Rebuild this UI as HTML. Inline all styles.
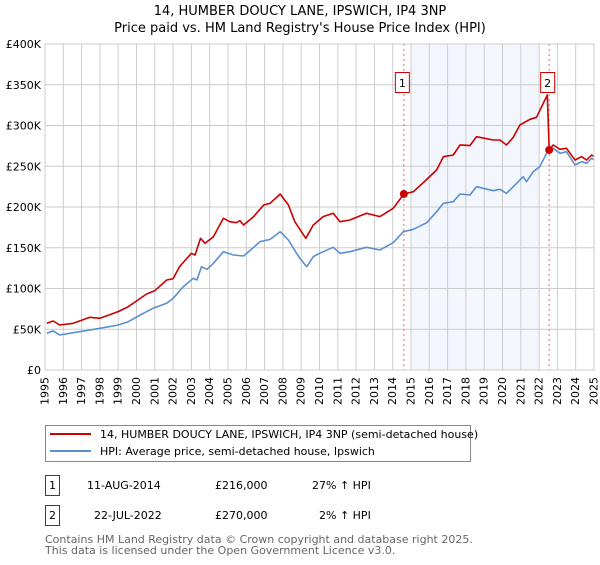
<!DOCTYPE html>
<html><head><meta charset="utf-8"><style>
body{margin:0;background:#fff}
svg{font-family:"DejaVu Sans","Liberation Sans",sans-serif}
</style></head><body>
<svg id="c" width="600" height="560" viewBox="0 0 600 560">
<text x="300" y="15" text-anchor="middle" font-size="13">14, HUMBER DOUCY LANE, IPSWICH, IP4 3NP</text>
<text x="300" y="32" text-anchor="middle" font-size="13">Price paid vs. HM Land Registry's House Price Index (HPI)</text>
<g id="plot"></g>
<g>
<rect x="45.5" y="425.5" width="425" height="36" fill="#fff" stroke="#888"/>
<line x1="50" y1="434" x2="91" y2="434" stroke="#cc0000" stroke-width="2"/>
<text x="100" y="438" font-size="11">14, HUMBER DOUCY LANE, IPSWICH, IP4 3NP (semi-detached house)</text>
<line x1="50" y1="451" x2="91" y2="451" stroke="#5b8fd0" stroke-width="2"/>
<text x="100" y="455" font-size="11">HPI: Average price, semi-detached house, Ipswich</text>
</g>
<g font-size="11">
<rect x="45.5" y="475.5" width="14" height="20" fill="#fff" stroke="#cc0000"/>
<text x="52.5" y="489" text-anchor="middle">1</text>
<text x="87" y="489">11-AUG-2014</text>
<text x="215" y="489">£216,000</text>
<text x="312" y="489">27% ↑ HPI</text>
<rect x="45.5" y="505.5" width="14" height="20" fill="#fff" stroke="#cc0000"/>
<text x="52.5" y="519" text-anchor="middle">2</text>
<text x="94" y="519">22-JUL-2022</text>
<text x="215" y="519">£270,000</text>
<text x="319" y="519">2% ↑ HPI</text>
</g>
<text x="45" y="543" font-size="11" fill="#666">Contains HM Land Registry data © Crown copyright and database right 2025.</text>
<text x="45" y="554" font-size="11" fill="#666">This data is licensed under the Open Government Licence v3.0.</text>
</svg>
<script>
const hpiYears=[1995.1,1995.45,1995.8,1996.55,1998.0,1999.0,1999.55,2000.2,2000.9,2001.65,2002.0,2002.55,2003.1,2003.3,2003.55,2003.85,2004.2,2004.75,2005.3,2005.85,2006.75,2007.3,2007.85,2008.3,2008.75,2008.93,2009.3,2009.66,2010.0,2010.75,2011.12,2011.66,2012.57,2013.3,2014.03,2014.58,2015.13,2015.86,2016.4,2016.77,2017.31,2017.68,2018.22,2018.58,2019.49,2019.86,2020.22,2020.59,2021.13,2021.31,2021.68,2022.04,2022.41,2022.77,2023.14,2023.5,2023.96,2024.32,2024.6,2024.87,2025.0];
const hpiValues=[45,48,43,45.8,51.2,55.2,59.3,67.5,75.7,81.8,88,102,112.5,110.4,126.7,123.5,130.9,145.2,141.1,139.9,157.4,160.3,169.7,159.5,143.2,137,126.7,139,143.2,150.5,143.2,145.2,150.5,147.2,156.2,169.7,172.6,180.7,194.2,204.5,206.5,216,214.7,224.9,220,221.7,216.8,224.9,237.2,231,243.3,249.5,265.9,272,265.9,267.9,251.5,255.6,253.6,259.8,258];
const priceYears=[1995.1,1995.45,1995.8,1996.55,1997.45,1998.0,1999.0,1999.55,2000.0,2000.55,2001.0,2001.65,2002.0,2002.35,2003.0,2003.2,2003.5,2003.75,2004.2,2004.75,2005.1,2005.45,2005.65,2005.85,2006.4,2006.95,2007.3,2007.85,2008.3,2008.65,2009.25,2009.66,2010.2,2010.75,2011.12,2011.66,2012.57,2013.3,2014.03,2014.61,2015.13,2015.67,2016.4,2016.77,2017.31,2017.68,2018.22,2018.58,2019.49,2019.86,2020.22,2020.59,2020.95,2021.5,2021.86,2022.45,2022.55,2022.77,2023.14,2023.5,2023.96,2024.32,2024.6,2024.87,2025.0];
const priceValues=[57.3,60.1,55.2,57.3,64.7,63.4,71.6,77.7,84.7,93.3,97.3,110.4,112,126.7,143.2,141.1,161.6,155.5,163.6,186.1,182,180.7,183.2,177.9,188.2,202.5,204.5,216,202.5,182,161.6,177.9,188.2,192.3,182,184.1,192.3,188.2,198.4,216,218.8,229.9,245.4,261.7,263.8,276.2,275.3,286.3,282.2,282.2,276.1,285.5,300.6,307.6,310.1,337.4,270,276.1,270.8,272,257.7,261.7,257.7,263.8,262];
const saleYears=[2014.61,2022.55];
const saleValues=[216,270];
const saleLabels=["1","2"];
const yTicks=[0,50,100,150,200,250,300,350,400];
const yTickLabels=["£0","£50K","£100K","£150K","£200K","£250K","£300K","£350K","£400K"];
const xTicks=[1995,1996,1997,1998,1999,2000,2001,2002,2003,2004,2005,2006,2007,2008,2009,2010,2011,2012,2013,2014,2015,2016,2017,2018,2019,2020,2021,2022,2023,2024,2025];

const X0=45,X1=594,Y0=370,Y1=44;
const sx=y=>X0+(y-1995)/30*(X1-X0);
const sy=v=>Y0-v/400*(Y0-Y1);
const NS="http://www.w3.org/2000/svg";
const g=document.getElementById('plot');
function mk(t,a,p){const e=document.createElementNS(NS,t);for(const k in a)e.setAttribute(k,a[k]);(p||g).appendChild(e);return e;}

const shade=mk('rect',{x:sx(2015),y:Y1,width:sx(2022)-sx(2015),height:Y0-Y1,fill:'#eef3fc',opacity:0.7});


xTicks.forEach(t=>{
  const l=mk('line',{x1:sx(t),x2:sx(t),y1:Y1,y2:Y0,stroke:'#cccccc','stroke-width':1});
  
  
  const x=sx(t),y=377;
  const tx=mk('text',{x:x,y:y,'text-anchor':'end','font-size':11,'dominant-baseline':'central',transform:'rotate(-90 '+x+' '+y+')'});
  tx.textContent=t;
  
  
});
yTicks.forEach((t,i)=>{
  const l=mk('line',{x1:X0,x2:X1,y1:sy(t),y2:sy(t),stroke:'#cccccc','stroke-width':1});
  
  
  const tx=mk('text',{x:X0-4,y:sy(t)+4,'text-anchor':'end','font-size':11});
  tx.textContent=yTickLabels[i];
  
  
});
saleYears.forEach((s,i)=>{
  const l=mk('line',{x1:sx(s),x2:sx(s),y1:Y1,y2:Y0,stroke:'#ee6666','stroke-width':1,'stroke-dasharray':'2,3'});
  
  
});
function path(xs,vs,col,name){
  const d=xs.map((x,i)=>(i?'L':'M')+sx(x).toFixed(1)+','+sy(vs[i]).toFixed(1)).join('');
  const p=mk('path',{d:d,fill:'none',stroke:col,'stroke-width':1.6,'stroke-linejoin':'round'});
  
  
}
path(hpiYears,hpiValues,'#5b8fd0','hpi-line');
path(priceYears,priceValues,'#cc0000','price-line');
saleYears.forEach((s,i)=>{
  const c=mk('circle',{cx:sx(s),cy:sy(saleValues[i]),r:4,fill:'#cc0000'});
  
  
  const r=mk('rect',{x:sx(s)-8.5,y:72.5,width:14,height:20,fill:'#fff',stroke:'#cc0000'});
  
  
  const t=mk('text',{x:sx(s)-1.5,y:87,'text-anchor':'middle','font-size':11});
  t.textContent=saleLabels[i];
  
  
});
const f=mk('rect',{x:X0,y:Y1,width:X1-X0,height:Y0-Y1,fill:'none',stroke:'#cccccc'});


</script>
</body></html>
